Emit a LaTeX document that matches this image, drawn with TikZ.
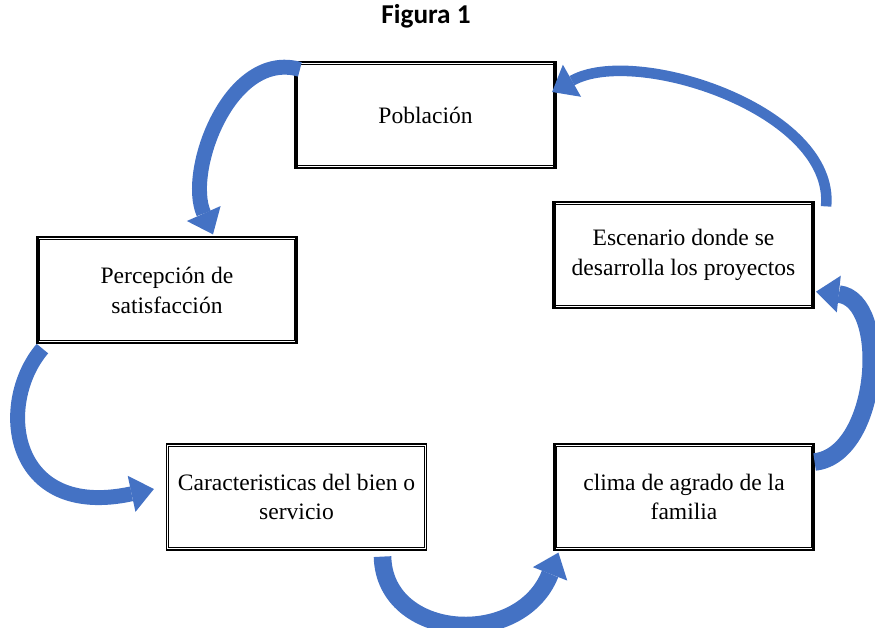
\documentclass[tikz,border=0pt]{standalone}
\usepackage{fontspec}
\setmainfont{Liberation Serif}
\newfontfamily\titulofont{Carlito}
\usetikzlibrary{arrows.meta,calc}
\definecolor{flecha}{HTML}{4472C4}
\definecolor{borde}{HTML}{2F528F}
\tikzset{
  caja/.style={draw,line width=0.7pt,fill=white,
    minimum width=5.2cm,minimum height=2.12cm,align=center,
    font=\fontsize{13.4}{17}\selectfont},
  interior/.style={line width=0.6pt},
  lado/.style={line width=2pt},
  curva/.style={flecha,line width=8.5pt,-{Triangle[length=13pt,width=21pt,line width=0pt]}},
}
\begin{document}
\begin{tikzpicture}[x=0.02cm,y=-0.02cm]
  \useasboundingbox (0,0) rectangle (875,628);
  \node[font=\titulofont\bfseries\fontsize{15.5}{18}\selectfont] (titulo) at (426,16) {Figura 1};

  \node[caja] (pob) at (425.5,115) {Población};
  \node[caja] (per) at (167,290) {Percepción de\\satisfacción};
  \node[caja] (esc) at (683.5,255) {Escenario donde se\\desarrolla los proyectos};
  \node[caja] (car) at (296.5,497) {Caracteristicas del bien o\\servicio};
  \node[caja] (cli) at (684,497) {clima de agrado de la\\familia};
  \foreach \n in {pob,per,esc,car,cli}
    \draw[interior] ($(\n.north west)+(3,3)$) rectangle ($(\n.south east)+(-3,-3)$); %doble linea
  \foreach \n in {pob,per,esc,cli}{
    \draw[lado] ($(\n.north west)+(1,0)$)--($(\n.south west)+(1,0)$); %lado izq.
    \draw[lado] ($(\n.north east)+(-1,0)$)--($(\n.south east)+(-1,0)$); %lado der.
  }

  \draw[curva] ($(pob.north west)+(5,8)$) .. controls +(-70,-20) and +(-28,-63) .. ($(per.north)+(46,-2)$);
  \draw[curva,line width=6pt] ($(esc.north east)+(12,5)$) .. controls +(9,-96) and +(83,-47) .. ($(pob.east)+(-4,-23)$);
  \draw[curva] ($(per.south west)+(6,5)$) .. controls +(-47,55) and +(-144,31) .. ($(car.west)+(-12,-8)$);
  \draw[curva,line width=10pt] ($(car.south)+(86,6)$) .. controls +(2,84) and +(-38,97) .. ($(cli.south west)+(5,2)$);
  \draw[curva,line width=10pt] ($(cli.east)+(0,-35)$) .. controls +(65,-7) and +(74,8) .. ($(esc.south east)+(2,-17)$);
\end{tikzpicture}
\end{document}
